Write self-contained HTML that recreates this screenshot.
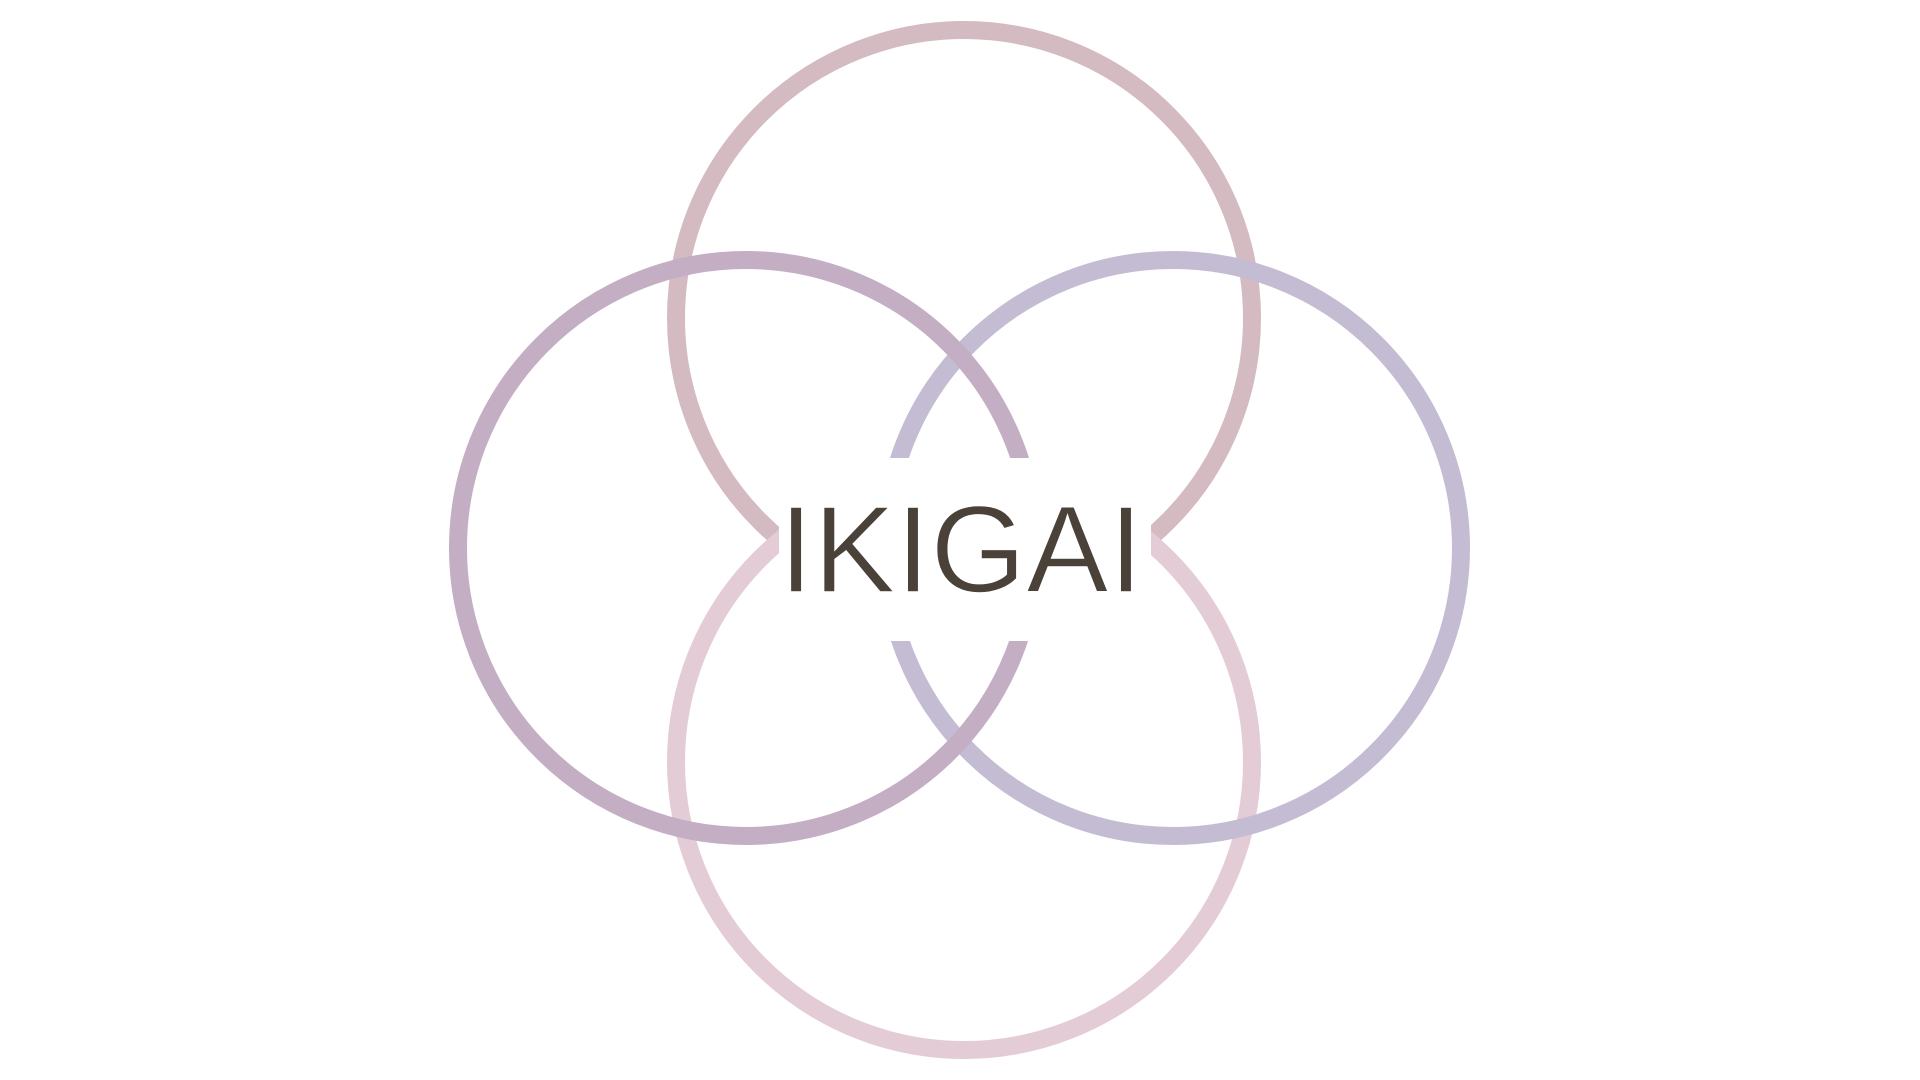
<!DOCTYPE html>
<html><head><meta charset="utf-8"><style>
html,body{margin:0;padding:0;background:#fff;width:1920px;height:1080px;overflow:hidden}
</style></head><body>
<svg width="1920" height="1080" viewBox="0 0 1920 1080">
<defs>
<mask id="m"><rect x="0" y="0" width="1920" height="1080" fill="#fff"/><rect x="779" y="458" width="372" height="183" fill="#000"/></mask>
</defs>
<g mask="url(#m)" fill="none" stroke-width="18">
<circle cx="964" cy="318" r="288" stroke="#d4bac1"/>
<circle cx="964" cy="762" r="288" stroke="#e4ccd6"/>
<circle cx="1173" cy="548" r="288" stroke="#c4bcd2"/>
<circle cx="746" cy="548" r="288" stroke="#c4aec4"/>
</g>
<text x="779" y="592" textLength="364" lengthAdjust="spacing" font-family="Liberation Sans, sans-serif" font-size="123" fill="#4a4139" stroke="#fff" stroke-width="1.5">IKIGAI</text>
</svg>
</body></html>
